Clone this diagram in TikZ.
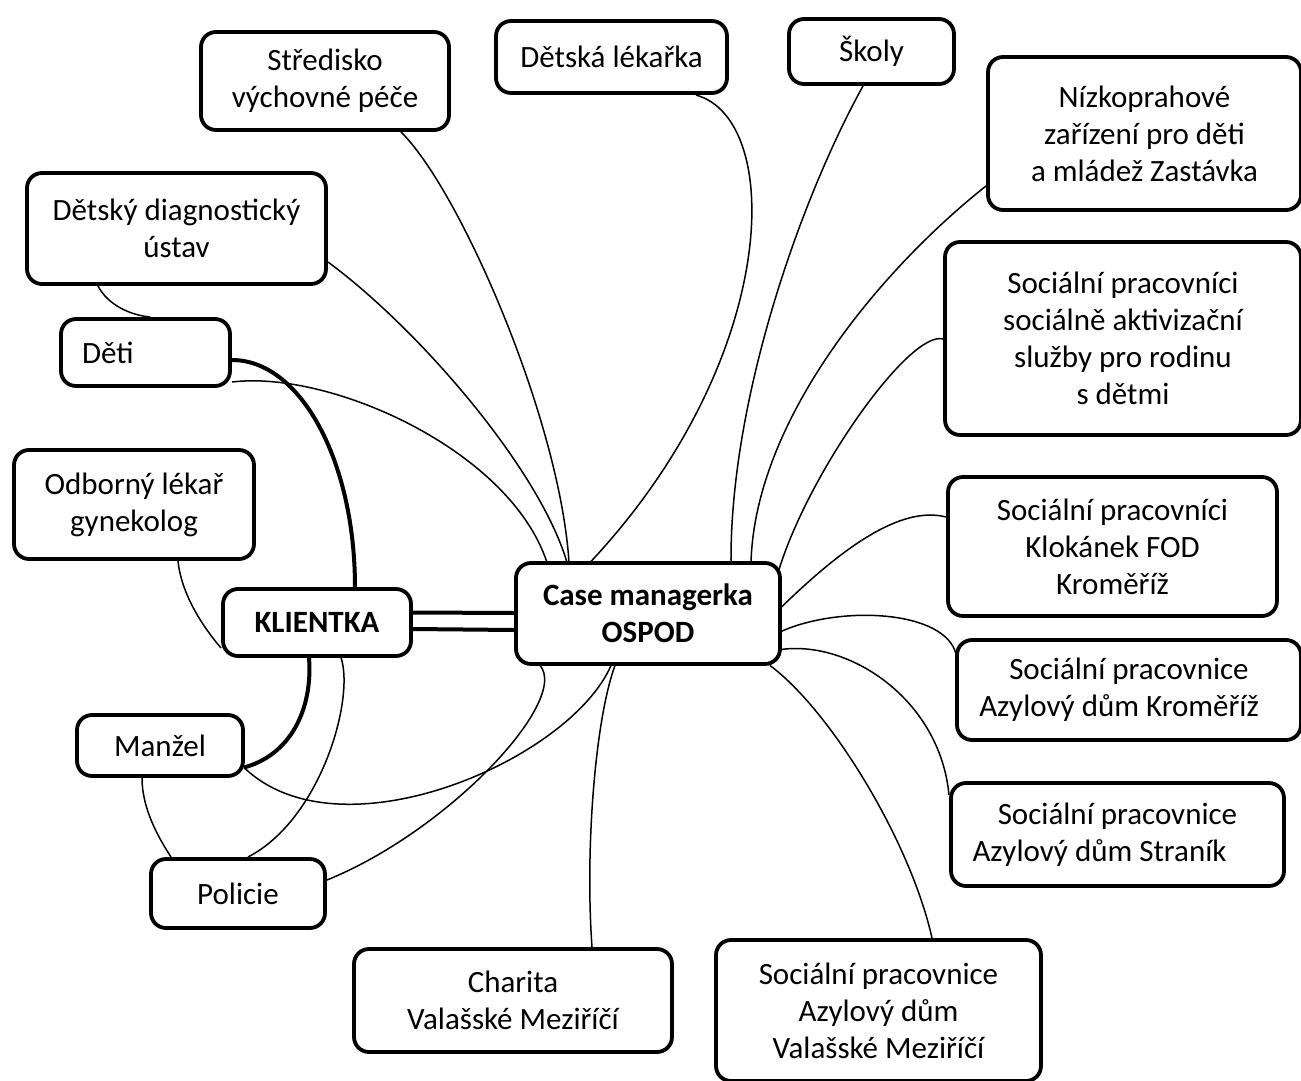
\documentclass[tikz,border=0pt]{standalone}
\usepackage{fontspec}
\setmainfont{Carlito}
\usetikzlibrary{backgrounds}
\begin{document}
\begin{tikzpicture}[x=1pt,y=-1pt,
  box/.style={draw, line width=3.8pt, rounded corners=15pt, fill=white,
    align=center, inner sep=0pt, font=\fontsize{31}{37}\selectfont},
  link/.style={line width=1.5pt},
  tie/.style={line width=4pt}]
\useasboundingbox (0,0) rectangle (1301,1081);

% ---- boxes ----
\node[box, minimum width=248pt, minimum height=98pt] (stred) at (325,81) {Středisko\\výchovné péče};
\node[box, minimum width=231pt, minimum height=72pt] (lek) at (611.5,57) {Dětská lékařka};
\node[box, minimum width=165pt, minimum height=65pt] (skoly) at (871.5,51.5) {Školy};
\node[box, minimum width=313pt, minimum height=153pt] (nizko) at (1144.5,133.5) {Nízkoprahové\\zařízení pro děti\\a mládež Zastávka};
\node[box, minimum width=299pt, minimum height=111pt] (diag) at (176.5,228.5) {Dětský diagnostický\\ústav};
\node[box, minimum width=169pt, minimum height=67pt, text width=127pt, inner xsep=21pt, align=left] (deti) at (145.5,352.5) {Děti};
\node[box, minimum width=356pt, minimum height=193pt] (aktiv) at (1123,338.5) {Sociální pracovníci\\sociálně aktivizační\\služby pro rodinu\\s dětmi};
\node[box, minimum width=240pt, minimum height=109pt] (gyn) at (134,504.5) {Odborný lékař\\gynekolog};
\node[box, minimum width=188pt, minimum height=67pt, font=\fontsize{31}{37}\selectfont\bfseries] (klient) at (317,622.5) {KLIENTKA};
\node[box, minimum width=264pt, minimum height=101pt, font=\fontsize{31}{37}\selectfont\bfseries] (case) at (648,613.5) {Case managerka\\OSPOD};
\node[box, minimum width=329pt, minimum height=139pt] (klok) at (1112.5,546.5) {Sociální pracovníci\\Klokánek FOD\\Kroměříž};
\node[box, minimum width=344pt, minimum height=100pt] (azkm) at (1129,690) {Sociální pracovnice\\Azylový dům Kroměříž\hspace*{20pt}};
\node[box, minimum width=333pt, minimum height=103pt] (stranik) at (1117.5,834.5) {Sociální pracovnice\\Azylový dům Straník\hspace*{36pt}};
\node[box, minimum width=166pt, minimum height=61pt] (manzel) at (160,745.5) {Manžel};
\node[box, minimum width=174pt, minimum height=69pt] (policie) at (238,893.5) {Policie};
\node[box, minimum width=318pt, minimum height=103pt] (charita) at (513,1000.5) {Charita\\Valašské Meziříčí};
\node[box, minimum width=325pt, minimum height=141pt] (azvm) at (878.5,1010.5) {Sociální pracovnice\\Azylový dům\\Valašské Meziříčí};

% ---- connectors ----
\begin{pgfonlayer}{background}
% thin links
\draw[link] ([shift={(-78.5,57.5)}]diag.center) .. controls (108,305) and (130,315) .. ([shift={(4.5,-35.5)}]deti.center);
\draw[link] ([shift={(151.5,33.5)}]diag.center) .. controls (420,330) and (540,470) .. ([shift={(-81,-51)}]case.center);
\draw[link] ([shift={(76,51)}]stred.center) .. controls (460,190) and (560,420) .. ([shift={(-79,-51)}]case.center);
\draw[link] ([shift={(86.5,29.5)}]deti.center) .. controls (330,370) and (510,450) .. ([shift={(-101,-51)}]case.center);
\draw[link] ([shift={(84.5,38)}]lek.center) .. controls (785,120) and (780,360) .. ([shift={(-58,-51)}]case.center);
\draw[link] ([shift={(-8.5,34.5)}]skoly.center) .. controls (800,200) and (730,400) .. ([shift={(83,-51)}]case.center);
\draw[link] ([shift={(-158.5,52.5)}]nizko.center) .. controls (880,270) and (755,420) .. ([shift={(103,-51)}]case.center);
\draw[link] ([shift={(-180,0.5)}]aktiv.center) .. controls (910,330) and (810,470) .. ([shift={(131,-44)}]case.center);
\draw[link] ([shift={(133,-6)}]case.center) .. controls (840,550) and (900,505) .. ([shift={(-166.5,-29.5)}]klok.center);
\draw[link] ([shift={(133,18)}]case.center) .. controls (840,605) and (945,610) .. ([shift={(-173,-36)}]azkm.center);
\draw[link] ([shift={(133,36)}]case.center) .. controls (850,640) and (940,700) .. ([shift={(-168.5,-39.5)}]stranik.center);
\draw[link] ([shift={(122,52)}]case.center) .. controls (830,710) and (910,840) .. ([shift={(53.5,-72.5)}]azvm.center);
\draw[link] ([shift={(-33,52)}]case.center) .. controls (595,720) and (585,850) .. ([shift={(79,-53.5)}]charita.center);
\draw[link] ([shift={(-37,52)}]case.center) .. controls (570,760) and (340,860) .. ([shift={(84,22)}]manzel.center);
\draw[link] ([shift={(-108,52)}]case.center) .. controls (570,700) and (450,830) .. ([shift={(89,-13.5)}]policie.center);
\draw[link] ([shift={(24,35)}]klient.center) .. controls (355,700) and (320,820) .. ([shift={(10,-36.5)}]policie.center);
\draw[link] ([shift={(-18,32.5)}]manzel.center) .. controls (142,810) and (160,840) .. ([shift={(-67,-36.5)}]policie.center);
\draw[link] ([shift={(44,56.5)}]gyn.center) .. controls (182,600) and (210,635) .. ([shift={(-96,25.5)}]klient.center);
% family ties
\draw[tie] ([shift={(86.5,7.5)}]deti.center) .. controls (300,360) and (355,460) .. ([shift={(38,-35)}]klient.center);
\draw[tie] ([shift={(-8,35)}]klient.center) .. controls (313,710) and (290,755) .. ([shift={(84,22)}]manzel.center);
% double tie between client and case manager
\draw[tie] ([shift={(96,-10)}]klient.center) -- ([shift={(-134,-0.5)}]case.center);
\draw[tie] ([shift={(96,6.5)}]klient.center) -- ([shift={(-134,16.5)}]case.center);
\end{pgfonlayer}
\end{tikzpicture}
\end{document}
